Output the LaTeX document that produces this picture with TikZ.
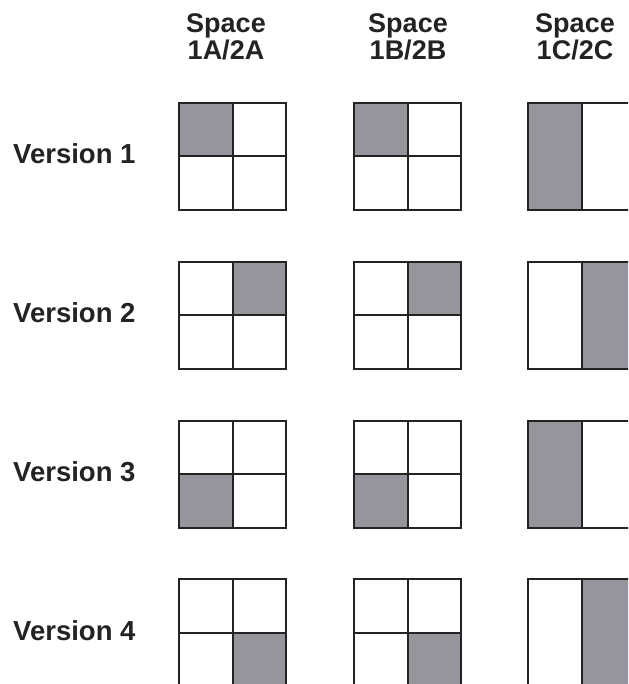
\documentclass[tikz,border=0pt]{standalone}
\usepackage{fontspec}
\setmainfont{Liberation Sans}
\definecolor{ink}{RGB}{35,35,35}
\definecolor{shade}{RGB}{150,149,156}
\begin{document}
\begin{tikzpicture}[x=1pt,y=-1pt,
  lbl/.style={font=\fontsize{27.5}{30}\selectfont\bfseries, text=ink, inner sep=0pt},
  hdr/.style={font=\fontsize{27}{30}\selectfont\bfseries, text=ink, inner sep=0pt, anchor=base},
  gridline/.style={draw=ink, line width=2pt, line join=miter},
  shaded/.style={fill=shade}]
\useasboundingbox (0,0) rectangle (628,684);
\clip (0,0) rectangle (628,684);
\fill[white] (0,0) rectangle (628,684);
% headers
\node[hdr] (hs1) at (226,33) {Space};
\node[hdr] (hn1) at (226,60) {1A/2A};
\node[hdr] (hs2) at (408,33) {Space};
\node[hdr] (hn2) at (408,60) {1B/2B};
\node[hdr] (hs3) at (575,33) {Space};
\node[hdr] (hn3) at (575,60) {1C/2C};
% rows
\foreach \r/\top/\qx/\qy/\hx in {1/103/0/0/0, 2/261.8/1/0/1, 3/420.6/0/1/0, 4/579.4/1/1/1}{
  \node[lbl, anchor=base west] (v\r) at (13,\top+61) {Version \r};
  \foreach \cx in {179,354}{
    \fill[shaded] (\cx+\qx*53.5,\top+\qy*53.5) rectangle ++(53.5,53.5);
    \draw[gridline] (\cx,\top) rectangle ++(107,107);
    \draw[gridline] (\cx+53.5,\top) -- ++(0,107);
    \draw[gridline] (\cx,\top+53.5) -- ++(107,0);
  }
  \fill[shaded] (528+\hx*54,\top) rectangle ++(54,107);
  \draw[gridline] (528,\top) rectangle ++(108,107);
  \draw[gridline] (582,\top) -- ++(0,107);
}
\end{tikzpicture}
\end{document}
